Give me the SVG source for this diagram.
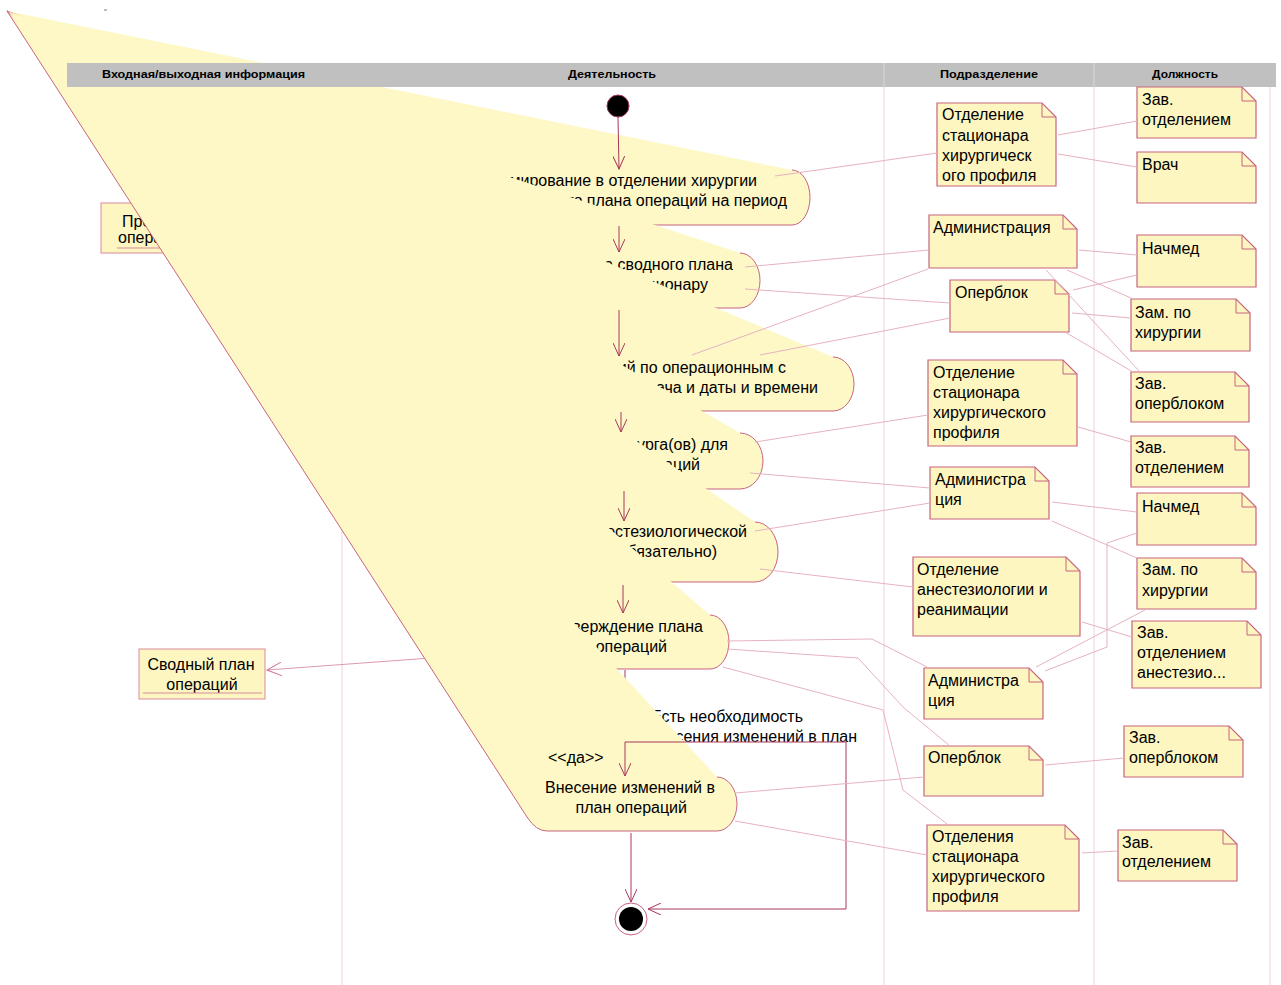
<svg xmlns="http://www.w3.org/2000/svg" width="1281" height="985" viewBox="0 0 1281 985">
<defs>
<style>
text{font-family:"Liberation Sans",Arial,sans-serif;font-size:16px;fill:#000}
.hd{font-size:10.5px;font-weight:bold}
.fill{fill:#fdf8c6;stroke:none}
.edge{fill:none;stroke:#c8647e;stroke-width:1}
.note{fill:#fdf6c0;stroke:#c8647e;stroke-width:1.2}
.fold{fill:none;stroke:#c8647e;stroke-width:1}
.obj{fill:#fdf6c0;stroke:#d88a9c;stroke-width:1}
.flow{fill:none;stroke:#a8385a;stroke-width:1}
.oflow{fill:none;stroke:#dc9aac;stroke-width:1}
.assoc{fill:none;stroke:#e6b2c0;stroke-width:1}
.lane{stroke:#f0d2da;stroke-width:1}
.e{text-anchor:end}
.m{text-anchor:middle}
</style>
<marker id="ah" viewBox="0 0 14 12" refX="13" refY="6" markerWidth="14" markerHeight="12" markerUnits="userSpaceOnUse" orient="auto">
<path d="M0,0 L13,6 L0,12" fill="none" stroke="#a8385a" stroke-width="1"/>
</marker>
<marker id="ahl" viewBox="0 0 16 14" refX="15" refY="7" markerWidth="16" markerHeight="14" markerUnits="userSpaceOnUse" orient="auto">
<path d="M0,0 L15,7 L0,14" fill="none" stroke="#d07890" stroke-width="1"/>
</marker>
</defs>
<rect width="1281" height="985" fill="#fff"/>
<g id="lanelines">
<line class="lane" x1="342" y1="87" x2="342" y2="985"/>
<line class="lane" x1="884" y1="87" x2="884" y2="985"/>
<line class="lane" x1="1094" y1="87" x2="1094" y2="985"/>
<line class="lane" x1="1270" y1="87" x2="1270" y2="985"/>
<line x1="104" y1="10" x2="107" y2="10" stroke="#777" stroke-width="1"/>
</g>
<g id="obj1">
<rect class="obj" x="101" y="203" width="110" height="50"/>
<text x="122" y="227">Проекты</text>
<text x="118" y="243">операций</text>
<line x1="117" y1="248" x2="200" y2="248" stroke="#d88a9c"/>
</g>
<g id="act1">
<path class="fill" d="M7,11 L792,170 A18 27.5 0 0 1 792,225 L560,225 Z"/>
<path class="edge" d="M792,170 A18 27.5 0 0 1 792,225 L560,225 L7,11"/>
<text class="e" x="757" y="186">Формирование в отделении хирургии</text>
<text class="e" x="787" y="206">сводного плана операций на период</text>
</g>
<g id="act2">
<path class="fill" d="M7,11 L740,253 A20 27.5 0 0 1 740,308 L560,308 Z"/>
<path class="edge" d="M740,253 A20 27.5 0 0 1 740,308 L560,308 L7,11"/>
<text class="e" x="733" y="270">Рассылка сводного плана</text>
<text class="e" x="708" y="290">по стационару</text>
</g>
<g id="act3">
<path class="fill" d="M7,11 L833,357 A21 27 0 0 1 833,411 L560,411 Z"/>
<path class="edge" d="M833,357 A21 27 0 0 1 833,411 L560,411 L7,11"/>
<text class="e" x="786" y="373">Распределение операций по операционным с</text>
<text class="e" x="818" y="393">указанием врача и даты и времени</text>
</g>
<g id="act4">
<path class="fill" d="M7,11 L740,433 A23 28 0 0 1 740,489 L560,489 Z"/>
<path class="edge" d="M740,433 A23 28 0 0 1 740,489 L560,489 L7,11"/>
<text class="e" x="728" y="450">Назначение хирурга(ов) для</text>
<text class="e" x="700" y="470">операций</text>
</g>
<g id="act5">
<path class="fill" d="M7,11 L755,522 A23 30 0 0 1 755,582 L560,582 Z"/>
<path class="edge" d="M755,522 A23 30 0 0 1 755,582 L560,582 L7,11"/>
<text class="e" x="747" y="537">Назначение анестезиологической</text>
<text class="e" x="717" y="557">бригады (необязательно)</text>
</g>
<g id="act6">
<path class="fill" d="M7,11 L710,615 A19 27 0 0 1 710,669 L560,669 Z"/>
<path class="edge" d="M710,615 A19 27 0 0 1 710,669 L560,669 L7,11"/>
<text class="e" x="703" y="632">Утверждение плана</text>
<text class="e" x="667" y="652">операций</text>
</g>
<g id="obj2">
<rect class="obj" x="139" y="649" width="126" height="50"/>
<text class="m" x="201" y="670">Сводный план</text>
<text class="m" x="202" y="690">операций</text>
<line x1="143" y1="693" x2="262" y2="693" stroke="#d88a9c"/>
</g>
<g id="under">
<path class="oflow" d="M540,650 L267,670" marker-end="url(#ahl)"/>
<path class="flow" d="M625,670 L625,700"/>
<text class="e" x="803" y="722">Есть необходимость</text>
<text class="e" x="857" y="742">внесения изменений в план</text>
</g>
<g id="act7">
<path class="fill" d="M7,11 L717,777 A20 27 0 0 1 717,831 L547,831 Q536,831 527,817 Z"/>
<path class="edge" d="M717,777 A20 27 0 0 1 717,831 L547,831 Q536,831 527,817 L7,11"/>
<text class="e" x="715" y="793">Внесение изменений в</text>
<text class="e" x="687" y="813">план операций</text>
</g>
<g id="header">
<rect x="67" y="63" width="1209" height="24" fill="#c0c0c0"/>
<line x1="884" y1="63" x2="884" y2="87" stroke="#d8d8d8"/>
<line x1="1094" y1="63" x2="1094" y2="87" stroke="#d8d8d8"/>
<text class="hd" x="102" y="78" textLength="203" lengthAdjust="spacingAndGlyphs">Входная/выходная информация</text>
<text class="hd" x="568" y="78" textLength="88" lengthAdjust="spacingAndGlyphs">Деятельность</text>
<text class="hd" x="940" y="78" textLength="98" lengthAdjust="spacingAndGlyphs">Подразделение</text>
<text class="hd" x="1152" y="78" textLength="66" lengthAdjust="spacingAndGlyphs">Должность</text>
</g>
<g id="start">
<circle cx="618" cy="106" r="11" fill="#000" stroke="#a8385a"/>
</g>
<g id="final">
<circle cx="631" cy="919" r="16" fill="#fff" stroke="#c8647e"/>
<circle cx="631" cy="919" r="12" fill="#000"/>
</g>
<g id="connectors">
<path class="flow" d="M618,117 L619,169" marker-end="url(#ah)"/>
<path class="flow" d="M619,226 L619,252" marker-end="url(#ah)"/>
<path class="flow" d="M619,310 L619,356" marker-end="url(#ah)"/>
<path class="flow" d="M621,412 L621,432" marker-end="url(#ah)"/>
<path class="flow" d="M624,491 L624,521" marker-end="url(#ah)"/>
<path class="flow" d="M623,585 L623,613" marker-end="url(#ah)"/>
<path class="flow" d="M625,742 L625,776" marker-end="url(#ah)"/>
<path class="flow" d="M625,742 L846,742 L846,909 L648,909" marker-end="url(#ah)"/>
<path class="flow" d="M631,833 L631,902" marker-end="url(#ah)"/>
<text x="548" y="763">&lt;&lt;да&gt;&gt;</text>
</g>
<g id="n1"><path class="note" d="M937,103 L1042,103 L1056,117 L1056,186 L937,186 Z"/><path class="fold" d="M1042,103 L1042,117 L1056,117"/>
<text x="942" y="120">Отделение</text><text x="942" y="141">стационара</text><text x="942" y="161">хирургическ</text><text x="942" y="181">ого профиля</text></g>
<g id="n2"><path class="note" d="M929,215 L1063,215 L1077,229 L1077,268 L929,268 Z"/><path class="fold" d="M1063,215 L1063,229 L1077,229"/>
<text x="933" y="233">Администрация</text></g>
<g id="n3"><path class="note" d="M950,280 L1055,280 L1069,294 L1069,332 L950,332 Z"/><path class="fold" d="M1055,280 L1055,294 L1069,294"/>
<text x="955" y="298">Оперблок</text></g>
<g id="n4"><path class="note" d="M928,360 L1063,360 L1077,374 L1077,446 L928,446 Z"/><path class="fold" d="M1063,360 L1063,374 L1077,374"/>
<text x="933" y="378">Отделение</text><text x="933" y="398">стационара</text><text x="933" y="418">хирургического</text><text x="933" y="438">профиля</text></g>
<g id="n5"><path class="note" d="M930,467 L1035,467 L1049,481 L1049,519 L930,519 Z"/><path class="fold" d="M1035,467 L1035,481 L1049,481"/>
<text x="935" y="485">Администра</text><text x="935" y="505">ция</text></g>
<g id="n6"><path class="note" d="M913,557 L1066,557 L1080,571 L1080,636 L913,636 Z"/><path class="fold" d="M1066,557 L1066,571 L1080,571"/>
<text x="917" y="575">Отделение</text><text x="917" y="595">анестезиологии и</text><text x="917" y="615">реанимации</text></g>
<g id="n7"><path class="note" d="M924,668 L1029,668 L1043,682 L1043,719 L924,719 Z"/><path class="fold" d="M1029,668 L1029,682 L1043,682"/>
<text x="928" y="686">Администра</text><text x="928" y="706">ция</text></g>
<g id="n8"><path class="note" d="M924,746 L1029,746 L1043,760 L1043,796 L924,796 Z"/><path class="fold" d="M1029,746 L1029,760 L1043,760"/>
<text x="928" y="763">Оперблок</text></g>
<g id="n9"><path class="note" d="M927,825 L1065,825 L1079,839 L1079,911 L927,911 Z"/><path class="fold" d="M1065,825 L1065,839 L1079,839"/>
<text x="932" y="842">Отделения</text><text x="932" y="862">стационара</text><text x="932" y="882">хирургического</text><text x="932" y="902">профиля</text></g>
<g id="r1"><path class="note" d="M1137,87 L1242,87 L1256,101 L1256,138 L1137,138 Z"/><path class="fold" d="M1242,87 L1242,101 L1256,101"/>
<text x="1142" y="105">Зав.</text><text x="1142" y="125">отделением</text></g>
<g id="r2"><path class="note" d="M1137,152 L1242,152 L1256,166 L1256,203 L1137,203 Z"/><path class="fold" d="M1242,152 L1242,166 L1256,166"/>
<text x="1142" y="170">Врач</text></g>
<g id="r3"><path class="note" d="M1137,235 L1242,235 L1256,249 L1256,287 L1137,287 Z"/><path class="fold" d="M1242,235 L1242,249 L1256,249"/>
<text x="1142" y="254">Начмед</text></g>
<g id="r4"><path class="note" d="M1131,299 L1236,299 L1250,313 L1250,351 L1131,351 Z"/><path class="fold" d="M1236,299 L1236,313 L1250,313"/>
<text x="1135" y="318">Зам. по</text><text x="1135" y="338">хирургии</text></g>
<g id="r5"><path class="note" d="M1131,372 L1235,372 L1249,386 L1249,422 L1131,422 Z"/><path class="fold" d="M1235,372 L1235,386 L1249,386"/>
<text x="1135" y="389">Зав.</text><text x="1135" y="409">оперблоком</text></g>
<g id="r6"><path class="note" d="M1131,436 L1235,436 L1249,450 L1249,487 L1131,487 Z"/><path class="fold" d="M1235,436 L1235,450 L1249,450"/>
<text x="1135" y="453">Зав.</text><text x="1135" y="473">отделением</text></g>
<g id="r7"><path class="note" d="M1137,493 L1242,493 L1256,507 L1256,545 L1137,545 Z"/><path class="fold" d="M1242,493 L1242,507 L1256,507"/>
<text x="1142" y="512">Начмед</text></g>
<g id="r8"><path class="note" d="M1137,558 L1242,558 L1256,572 L1256,609 L1137,609 Z"/><path class="fold" d="M1242,558 L1242,572 L1256,572"/>
<text x="1142" y="575">Зам. по</text><text x="1142" y="596">хирургии</text></g>
<g id="r9"><path class="note" d="M1132,621 L1247,621 L1261,635 L1261,688 L1132,688 Z"/><path class="fold" d="M1247,621 L1247,635 L1261,635"/>
<text x="1137" y="638">Зав.</text><text x="1137" y="658">отделением</text><text x="1137" y="678">анестезио...</text></g>
<g id="r10"><path class="note" d="M1124,726 L1229,726 L1243,740 L1243,777 L1124,777 Z"/><path class="fold" d="M1229,726 L1229,740 L1243,740"/>
<text x="1129" y="743">Зав.</text><text x="1129" y="763">оперблоком</text></g>
<g id="r11"><path class="note" d="M1118,830 L1223,830 L1237,844 L1237,881 L1118,881 Z"/><path class="fold" d="M1223,830 L1223,844 L1237,844"/>
<text x="1122" y="848">Зав.</text><text x="1122" y="867">отделением</text></g>
<g id="associations">
<path class="assoc" d="M775,176 L937,153"/>
<path class="assoc" d="M1058,135 L1137,121"/>
<path class="assoc" d="M1058,154 L1137,167"/>
<path class="assoc" d="M745,267 L929,250"/>
<path class="assoc" d="M745,289 L950,303"/>
<path class="assoc" d="M692,355 L928,269"/>
<path class="assoc" d="M760,355 L950,318"/>
<path class="assoc" d="M1079,250 L1137,255"/>
<path class="assoc" d="M1067,270 L1131,298"/>
<path class="assoc" d="M1046,270 L1140,372"/>
<path class="assoc" d="M1073,290 L1137,275"/>
<path class="assoc" d="M1072,313 L1131,318"/>
<path class="assoc" d="M1065,332 L1133,372"/>
<path class="assoc" d="M755,442 L928,415"/>
<path class="assoc" d="M750,473 L930,488"/>
<path class="assoc" d="M755,531 L930,503"/>
<path class="assoc" d="M760,569 L913,587"/>
<path class="assoc" d="M1078,427 L1131,442"/>
<path class="assoc" d="M1052,502 L1137,512"/>
<path class="assoc" d="M1052,521 L1137,558"/>
<path class="assoc" d="M1082,622 L1132,637"/>
<path class="assoc" d="M1137,533 L1107,543 L1107,647 L1045,671"/>
<path class="assoc" d="M1145,610 L1036,667"/>
<path class="assoc" d="M727,641 L872,639 L929,668"/>
<path class="assoc" d="M727,649 L858,658 L903,707 L950,746"/>
<path class="assoc" d="M723,667 L883,710 L903,790 L947,824"/>
<path class="assoc" d="M735,793 L924,777"/>
<path class="assoc" d="M735,821 L927,855"/>
<path class="assoc" d="M1045,765 L1124,758"/>
<path class="assoc" d="M1082,853 L1118,851"/>
</g>
</svg>
